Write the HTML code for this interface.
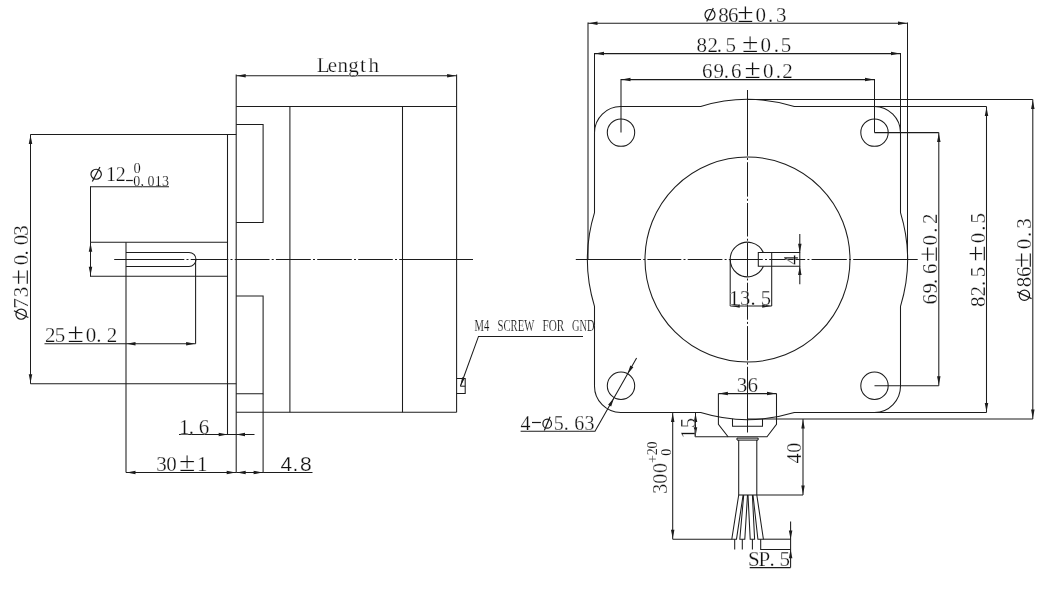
<!DOCTYPE html>
<html><head><meta charset="utf-8"><style>
html,body{margin:0;padding:0;background:#fff;}
svg{display:block;}
line,path,circle{stroke:#1c1c1c;stroke-width:1.05;fill:none;}
path.f{fill:#1c1c1c;stroke:none;}
.t{stroke:#1a1a1a;stroke-width:1.2;fill:none;}
ellipse{fill:none;}
text{font-family:"Liberation Serif",serif;fill:#111;stroke:#fff;stroke-width:0.25px;}
svg{filter:grayscale(1);}
</style></head><body>
<svg width="1052" height="592" viewBox="0 0 1052 592">
<rect width="1052" height="592" fill="#fff"/>
<line x1="236.2" y1="74.5" x2="236.2" y2="472.5"/>
<line x1="456.6" y1="74.5" x2="456.6" y2="412.3"/>
<line x1="236.2" y1="75.8" x2="456.6" y2="75.8"/>
<path class="f" d="M236.90,75.80L245.70,74.05L245.70,77.55Z"/>
<path class="f" d="M455.90,75.80L447.10,77.55L447.10,74.05Z"/>
<line x1="236.2" y1="106.4" x2="456.6" y2="106.4"/>
<line x1="236.2" y1="412.3" x2="456.6" y2="412.3"/>
<line x1="289.9" y1="106.4" x2="289.9" y2="412.3"/>
<line x1="402.5" y1="106.4" x2="402.5" y2="412.3"/>
<path d="M236.2,124.4H263.1V222.5H236.2"/>
<path d="M236.2,296H263.1V393.7H236.2"/>
<line x1="263.1" y1="393.7" x2="263.1" y2="472.5"/>
<line x1="227.5" y1="134.4" x2="227.5" y2="434.5"/>
<line x1="30.5" y1="134.4" x2="236.2" y2="134.4"/>
<line x1="30.5" y1="383.8" x2="236.2" y2="383.8"/>
<line x1="90" y1="242.3" x2="227.5" y2="242.3"/>
<line x1="90" y1="276.3" x2="227.5" y2="276.3"/>
<line x1="126" y1="242.3" x2="126" y2="472.5"/>
<path d="M126,252.4H189A7,7 0 0 1 189,266.4H126"/>
<line x1="195.6" y1="259.5" x2="195.6" y2="343.8"/>
<line x1="90.5" y1="186.7" x2="90.5" y2="242.3"/>
<line x1="90.5" y1="242.3" x2="90.5" y2="276.3"/>
<path class="f" d="M90.50,243.00L92.25,251.80L88.75,251.80Z"/>
<path class="f" d="M90.50,275.60L88.75,266.80L92.25,266.80Z"/>
<line x1="90" y1="186.7" x2="169" y2="186.7"/>
<line x1="44.5" y1="343.8" x2="126" y2="343.8"/>
<line x1="126" y1="343.8" x2="195.6" y2="343.8"/>
<path class="f" d="M126.70,343.80L135.50,342.05L135.50,345.55Z"/>
<path class="f" d="M194.90,343.80L186.10,345.55L186.10,342.05Z"/>
<line x1="30.5" y1="134.4" x2="30.5" y2="383.8"/>
<path class="f" d="M30.50,135.10L32.25,143.90L28.75,143.90Z"/>
<path class="f" d="M30.50,383.10L28.75,374.30L32.25,374.30Z"/>
<line x1="179" y1="434.5" x2="254.5" y2="434.5"/>
<path class="f" d="M227.50,434.50L218.70,436.25L218.70,432.75Z"/>
<path class="f" d="M236.20,434.50L245.00,432.75L245.00,436.25Z"/>
<line x1="126" y1="472.5" x2="236.2" y2="472.5"/>
<path class="f" d="M126.70,472.50L135.50,470.75L135.50,474.25Z"/>
<path class="f" d="M235.50,472.50L226.70,474.25L226.70,470.75Z"/>
<line x1="263.1" y1="472.5" x2="312.5" y2="472.5"/>
<line x1="236.2" y1="472.5" x2="263.1" y2="472.5"/>
<path class="f" d="M236.90,472.50L245.70,470.75L245.70,474.25Z"/>
<path class="f" d="M262.40,472.50L253.60,474.25L253.60,470.75Z"/>
<line x1="114.2" y1="259.5" x2="184.3" y2="259.5"/>
<line x1="186.5" y1="259.5" x2="188.5" y2="259.5"/>
<line x1="190.7" y1="259.5" x2="228.3" y2="259.5"/>
<line x1="230.5" y1="259.5" x2="232.5" y2="259.5"/>
<line x1="234.7" y1="259.5" x2="269.5" y2="259.5"/>
<line x1="271.7" y1="259.5" x2="273.7" y2="259.5"/>
<line x1="275.9" y1="259.5" x2="310.8" y2="259.5"/>
<line x1="313.0" y1="259.5" x2="315.0" y2="259.5"/>
<line x1="317.2" y1="259.5" x2="351.8" y2="259.5"/>
<line x1="354.0" y1="259.5" x2="356.0" y2="259.5"/>
<line x1="358.2" y1="259.5" x2="392.8" y2="259.5"/>
<line x1="395.0" y1="259.5" x2="397.0" y2="259.5"/>
<line x1="399.2" y1="259.5" x2="473" y2="259.5"/>
<path d="M456.6,378.5H465.2V393.4H456.6"/>
<line x1="460.4" y1="386.2" x2="465.2" y2="386.2"/>
<path d="M583,336.4H478.5L460.4,386.2"/>
<path class="f" d="M460.40,386.20L462.16,377.26L464.79,378.22Z"/>
<line x1="588.0" y1="22.5" x2="588.0" y2="259.5"/>
<line x1="907.5" y1="22.5" x2="907.5" y2="259.5"/>
<line x1="588.0" y1="23.2" x2="907.5" y2="23.2"/>
<path class="f" d="M588.70,23.20L597.50,21.45L597.50,24.95Z"/>
<path class="f" d="M906.80,23.20L898.00,24.95L898.00,21.45Z"/>
<line x1="594.5" y1="53" x2="594.5" y2="132.6"/>
<line x1="900.5" y1="53" x2="900.5" y2="132.6"/>
<line x1="594.5" y1="53.6" x2="900.5" y2="53.6"/>
<path class="f" d="M595.20,53.60L604.00,51.85L604.00,55.35Z"/>
<path class="f" d="M899.80,53.60L891.00,55.35L891.00,51.85Z"/>
<line x1="621.0" y1="79" x2="621.0" y2="132.6"/>
<line x1="874.5" y1="79" x2="874.5" y2="132.6"/>
<line x1="621.0" y1="79.6" x2="874.5" y2="79.6"/>
<path class="f" d="M621.70,79.60L630.50,77.85L630.50,81.35Z"/>
<path class="f" d="M873.80,79.60L865.00,81.35L865.00,77.85Z"/>
<path d="M594.5,132.6V212.69A160.0,160.0 0 0 0 594.5,306.31V385.8A26.3,26.3 0 0 0 621.0,412.5H700.69A160.0,160.0 0 0 0 794.31,412.5H874.5A26.3,26.3 0 0 0 900.5,385.8V306.31A160.0,160.0 0 0 0 900.5,212.69V132.6A26.3,26.3 0 0 0 874.5,106.5H794.31A160.0,160.0 0 0 0 700.69,106.5H621.0A26.3,26.3 0 0 0 594.5,132.6Z"/>
<line x1="747.5" y1="99.5" x2="1032.8" y2="99.5"/>
<line x1="874.5" y1="106.5" x2="986.5" y2="106.5"/>
<line x1="874.5" y1="132.6" x2="938.8" y2="132.6"/>
<line x1="874.5" y1="385.8" x2="938.8" y2="385.8"/>
<line x1="874.5" y1="412.5" x2="986.5" y2="412.5"/>
<line x1="747.5" y1="419.0" x2="1032.8" y2="419.0"/>
<line x1="938.8" y1="132.6" x2="938.8" y2="385.8"/>
<path class="f" d="M938.80,133.30L940.55,142.10L937.05,142.10Z"/>
<path class="f" d="M938.80,385.10L937.05,376.30L940.55,376.30Z"/>
<line x1="986.5" y1="106.5" x2="986.5" y2="412.5"/>
<path class="f" d="M986.50,107.20L988.25,116.00L984.75,116.00Z"/>
<path class="f" d="M986.50,411.80L984.75,403.00L988.25,403.00Z"/>
<line x1="1032.8" y1="99.5" x2="1032.8" y2="419.0"/>
<path class="f" d="M1032.80,100.20L1034.55,109.00L1031.05,109.00Z"/>
<path class="f" d="M1032.80,418.30L1031.05,409.50L1034.55,409.50Z"/>
<circle cx="621.0" cy="132.6" r="13.7"/>
<circle cx="621.0" cy="385.8" r="13.7"/>
<circle cx="874.5" cy="132.6" r="13.7"/>
<circle cx="874.5" cy="385.8" r="13.7"/>
<circle cx="747.5" cy="259.5" r="102.5"/>
<path d="M763.32,252.5A17.3,17.3 0 1 0 763.41,266.3"/>
<path d="M758.3,252.5H799.8V266.3H758.3Z"/>
<line x1="771.7" y1="252.5" x2="771.7" y2="306"/>
<line x1="730.2" y1="259.5" x2="730.2" y2="306"/>
<line x1="730.2" y1="305.9" x2="771.7" y2="305.9"/>
<path class="f" d="M730.90,305.90L739.70,304.15L739.70,307.65Z"/>
<path class="f" d="M771.00,305.90L762.20,307.65L762.20,304.15Z"/>
<line x1="799.8" y1="234" x2="799.8" y2="252.5"/>
<path class="f" d="M799.80,252.50L798.05,243.70L801.55,243.70Z"/>
<line x1="799.8" y1="266.3" x2="799.8" y2="284.3"/>
<path class="f" d="M799.80,266.30L801.55,275.10L798.05,275.10Z"/>
<line x1="747.5" y1="90" x2="747.5" y2="155.8"/>
<line x1="747.5" y1="158.0" x2="747.5" y2="160.0"/>
<line x1="747.5" y1="162.2" x2="747.5" y2="196.6"/>
<line x1="747.5" y1="198.8" x2="747.5" y2="200.8"/>
<line x1="747.5" y1="203.0" x2="747.5" y2="236.5"/>
<line x1="747.5" y1="238.7" x2="747.5" y2="240.7"/>
<line x1="747.5" y1="242.9" x2="747.5" y2="276.3"/>
<line x1="747.5" y1="278.5" x2="747.5" y2="280.5"/>
<line x1="747.5" y1="282.7" x2="747.5" y2="319.7"/>
<line x1="747.5" y1="321.9" x2="747.5" y2="323.9"/>
<line x1="747.5" y1="326.1" x2="747.5" y2="360.4"/>
<line x1="747.5" y1="362.6" x2="747.5" y2="364.6"/>
<line x1="747.5" y1="366.8" x2="747.5" y2="432.5"/>
<line x1="575.8" y1="259.5" x2="641.0" y2="259.5"/>
<line x1="643.2" y1="259.5" x2="645.2" y2="259.5"/>
<line x1="647.4" y1="259.5" x2="681.3" y2="259.5"/>
<line x1="683.5" y1="259.5" x2="685.5" y2="259.5"/>
<line x1="687.7" y1="259.5" x2="722.4" y2="259.5"/>
<line x1="724.6" y1="259.5" x2="726.6" y2="259.5"/>
<line x1="728.8" y1="259.5" x2="762.8" y2="259.5"/>
<line x1="765.0" y1="259.5" x2="767.0" y2="259.5"/>
<line x1="769.2" y1="259.5" x2="805.2" y2="259.5"/>
<line x1="807.4" y1="259.5" x2="809.4" y2="259.5"/>
<line x1="811.6" y1="259.5" x2="846.8" y2="259.5"/>
<line x1="849.0" y1="259.5" x2="851.0" y2="259.5"/>
<line x1="853.2" y1="259.5" x2="917.7" y2="259.5"/>
<line x1="718.4" y1="393.6" x2="776.5" y2="393.6"/>
<path class="f" d="M719.10,393.60L727.90,391.85L727.90,395.35Z"/>
<path class="f" d="M775.80,393.60L767.00,395.35L767.00,391.85Z"/>
<path d="M718.4,393.6V424.3L728.1,436.8H767L776.5,424.3V393.6"/>
<path d="M732.5,418.7V426.3H762.5V418.7"/>
<line x1="694.9" y1="436.8" x2="728.1" y2="436.8"/>
<line x1="695.5" y1="412.5" x2="695.5" y2="436.8"/>
<path class="f" d="M695.50,413.20L697.25,422.00L693.75,422.00Z"/>
<path class="f" d="M695.50,436.10L693.75,427.30L697.25,427.30Z"/>
<line x1="737" y1="438.1" x2="758.1" y2="438.1"/>
<line x1="737" y1="440.1" x2="758.1" y2="440.1"/>
<line x1="737" y1="438.1" x2="737" y2="440.1"/>
<line x1="758.1" y1="438.1" x2="758.1" y2="440.1"/>
<line x1="738.7" y1="440.1" x2="738.7" y2="495"/>
<line x1="756.8" y1="440.1" x2="756.8" y2="495"/>
<line x1="738.7" y1="495" x2="756.8" y2="495"/>
<line x1="756.8" y1="494.9" x2="803" y2="494.9"/>
<line x1="803" y1="419.0" x2="803" y2="494.9"/>
<path class="f" d="M803.00,419.70L804.75,428.50L801.25,428.50Z"/>
<path class="f" d="M803.00,494.20L801.25,485.40L804.75,485.40Z"/>
<line x1="672.7" y1="412.5" x2="672.7" y2="539.2"/>
<path class="f" d="M672.70,413.20L674.45,422.00L670.95,422.00Z"/>
<path class="f" d="M672.70,538.50L670.95,529.70L674.45,529.70Z"/>
<line x1="672.7" y1="539.2" x2="731.8" y2="539.2"/>
<path d="M738.7,495L731.8,539.2H736.5L743.1,495"/>
<path d="M743.7,495L739.8,539.2H744.8L747.5,495"/>
<path d="M748.0,495L750.2,539.2H754.6L752.4,495"/>
<path d="M753.0,495L757.9,539.2H763.4L756.8,495"/>
<line x1="734.7" y1="539.2" x2="734.7" y2="549.4"/>
<line x1="742.3" y1="539.2" x2="742.3" y2="549.4"/>
<line x1="752.4" y1="539.2" x2="752.4" y2="549.4"/>
<path d="M760.7,539.2V549.4H790.6"/>
<line x1="763.4" y1="539.2" x2="790.6" y2="539.2"/>
<line x1="790.6" y1="521.4" x2="790.6" y2="567.6"/>
<path class="f" d="M790.60,539.20L788.85,530.40L792.35,530.40Z"/>
<path class="f" d="M790.60,549.40L792.35,558.20L788.85,558.20Z"/>
<line x1="749.7" y1="567.6" x2="790.6" y2="567.6"/>
<path d="M520.6,431.3H595L636.6,358"/>
<path class="f" d="M627.50,374.10L630.32,365.58L633.36,367.31Z"/>
<path class="f" d="M614.00,397.90L611.18,406.42L608.14,404.69Z"/>
<ellipse cx="96.15" cy="174.25" rx="5.2" ry="5.0" class="t"/>
<line x1="99.95" y1="166.95" x2="92.35" y2="181.55" class="t"/>
<line x1="126.1" y1="180.5" x2="132.8" y2="180.5" class="t"/>
<ellipse cx="21.15" cy="314.15" rx="5.2" ry="5.1" class="t"/>
<line x1="13.95" y1="310.75" x2="28.35" y2="317.55" class="t"/>
<ellipse cx="710" cy="14.75" rx="5.0" ry="5.25" class="t"/>
<line x1="713.30" y1="7.95" x2="706.70" y2="21.55" class="t"/>
<ellipse cx="1024.4" cy="295.25" rx="5.2" ry="5.1" class="t"/>
<line x1="1017.20" y1="291.85" x2="1031.60" y2="298.65" class="t"/>
<line x1="532" y1="422.5" x2="540.9" y2="422.5" class="t"/>
<ellipse cx="547.2" cy="423.7" rx="4.3" ry="4.5" class="t"/>
<line x1="550.10" y1="416.80" x2="544.30" y2="430.60" class="t"/>
<text transform="translate(322.85,71.9)" x="-6.09" y="0" font-size="21">L</text>
<text transform="translate(332.55,71.9)" x="-4.71" y="0" font-size="21">e</text>
<text transform="translate(342.75,71.9)" x="-5.33" y="0" font-size="21">n</text>
<text transform="translate(353.70,71.9)" x="-5.50" y="0" font-size="21">g</text>
<text transform="translate(362.95,71.9)" x="-2.96" y="0" font-size="21">t</text>
<text transform="translate(373.65,71.9)" x="-5.21" y="0" font-size="21">h</text>
<text transform="translate(111.15,180.9)" x="-5.28" y="0" font-size="20">1</text>
<text transform="translate(120.65,180.9)" x="-4.89" y="0" font-size="20">2</text>
<text transform="translate(137.05,172.6)" x="-3.62" y="0" font-size="14.5" style="stroke-width:0.15px">0</text>
<text transform="translate(136.80,185.5)" x="-3.50" y="0" font-size="14" style="stroke-width:0.15px">0</text>
<text transform="translate(142.00,185.5)" x="-1.58" y="0" font-size="14" style="stroke-width:0.15px">,</text>
<text transform="translate(151.00,185.5)" x="-3.50" y="0" font-size="14" style="stroke-width:0.15px">0</text>
<text transform="translate(158.35,185.5)" x="-3.69" y="0" font-size="14" style="stroke-width:0.15px">1</text>
<text transform="translate(165.45,185.5)" x="-3.56" y="0" font-size="14" style="stroke-width:0.15px">3</text>
<text transform="translate(50.05,341.7)" x="-5.13" y="0" font-size="21">2</text>
<text transform="translate(60.15,341.7)" x="-5.45" y="0" font-size="21">5</text>
<text transform="translate(75.55,341.7) scale(1.1,1)" x="-7.40" y="0" font-size="27">±</text>
<text transform="translate(90.95,341.7)" x="-5.25" y="0" font-size="21">0</text>
<text transform="translate(98.90,341.7)" x="-2.62" y="0" font-size="21">.</text>
<text transform="translate(111.85,341.7)" x="-5.13" y="0" font-size="21">2</text>
<text transform="translate(28.4,303.05) rotate(-90)" x="-5.64" y="0" font-size="21">7</text>
<text transform="translate(28.4,291.95) rotate(-90)" x="-5.34" y="0" font-size="21">3</text>
<text transform="translate(28.4,277.10) rotate(-90) scale(1.1,1)" x="-7.40" y="0" font-size="27">±</text>
<text transform="translate(28.4,259.90) rotate(-90)" x="-5.25" y="0" font-size="21">0</text>
<text transform="translate(28.4,252.80) rotate(-90)" x="-2.62" y="0" font-size="21">.</text>
<text transform="translate(28.4,239.95) rotate(-90)" x="-5.25" y="0" font-size="21">0</text>
<text transform="translate(28.4,230.50) rotate(-90)" x="-5.34" y="0" font-size="21">3</text>
<text transform="translate(184.45,433.8)" x="-5.54" y="0" font-size="21">1</text>
<text transform="translate(191.30,433.8)" x="-2.62" y="0" font-size="21">.</text>
<text transform="translate(204.15,433.8)" x="-5.39" y="0" font-size="21">6</text>
<text transform="translate(161.65,470.8)" x="-5.34" y="0" font-size="21">3</text>
<text transform="translate(171.55,470.8)" x="-5.25" y="0" font-size="21">0</text>
<text transform="translate(187.25,470.8) scale(1.1,1)" x="-7.40" y="0" font-size="27">±</text>
<text transform="translate(202.50,470.8)" x="-5.54" y="0" font-size="21">1</text>
<text transform="translate(286.35,471)" x="-5.77" y="0" font-size="21" style="font-family:'Liberation Sans'">4</text>
<text transform="translate(295.30,471)" x="-2.92" y="0" font-size="21" style="font-family:'Liberation Sans'">.</text>
<text transform="translate(305.95,471)" x="-5.84" y="0" font-size="21" style="font-family:'Liberation Sans'">8</text>
<text x="474.6" y="331" font-size="16.5" textLength="14.7" lengthAdjust="spacingAndGlyphs" style="stroke-width:0.2px">M4</text>
<text x="497.5" y="331" font-size="16.5" textLength="36.8" lengthAdjust="spacingAndGlyphs" style="stroke-width:0.2px">SCREW</text>
<text x="542.5" y="331" font-size="16.5" textLength="21.8" lengthAdjust="spacingAndGlyphs" style="stroke-width:0.2px">FOR</text>
<text x="572" y="331" font-size="16.5" textLength="22.5" lengthAdjust="spacingAndGlyphs" style="stroke-width:0.2px">GND</text>
<text transform="translate(723.50,21.9)" x="-5.25" y="0" font-size="21">8</text>
<text transform="translate(733.30,21.9)" x="-5.39" y="0" font-size="21">6</text>
<text transform="translate(745.30,21.9) scale(1.1,1)" x="-7.40" y="0" font-size="27">±</text>
<text transform="translate(760.85,21.9)" x="-5.25" y="0" font-size="21">0</text>
<text transform="translate(770.70,21.9)" x="-2.62" y="0" font-size="21">.</text>
<text transform="translate(781.45,21.9)" x="-5.34" y="0" font-size="21">3</text>
<text transform="translate(701.75,51.5)" x="-5.25" y="0" font-size="21">8</text>
<text transform="translate(712.50,51.5)" x="-5.13" y="0" font-size="21">2</text>
<text transform="translate(719.45,51.5)" x="-2.62" y="0" font-size="21">.</text>
<text transform="translate(730.85,51.5)" x="-5.45" y="0" font-size="21">5</text>
<text transform="translate(750.25,51.5) scale(1.1,1)" x="-7.40" y="0" font-size="27">±</text>
<text transform="translate(765.85,51.5)" x="-5.25" y="0" font-size="21">0</text>
<text transform="translate(776.25,51.5)" x="-2.62" y="0" font-size="21">.</text>
<text transform="translate(786.25,51.5)" x="-5.45" y="0" font-size="21">5</text>
<text transform="translate(707.35,77.6)" x="-5.39" y="0" font-size="21">6</text>
<text transform="translate(718.75,77.6)" x="-5.16" y="0" font-size="21">9</text>
<text transform="translate(726.35,77.6)" x="-2.62" y="0" font-size="21">.</text>
<text transform="translate(736.45,77.6)" x="-5.39" y="0" font-size="21">6</text>
<text transform="translate(752.70,77.6) scale(1.1,1)" x="-7.40" y="0" font-size="27">±</text>
<text transform="translate(768.25,77.6)" x="-5.25" y="0" font-size="21">0</text>
<text transform="translate(778.35,77.6)" x="-2.62" y="0" font-size="21">.</text>
<text transform="translate(787.30,77.6)" x="-5.13" y="0" font-size="21">2</text>
<text transform="translate(936.9,299.15) rotate(-90)" x="-5.39" y="0" font-size="21">6</text>
<text transform="translate(936.9,288.45) rotate(-90)" x="-5.16" y="0" font-size="21">9</text>
<text transform="translate(936.9,281.50) rotate(-90)" x="-2.62" y="0" font-size="21">.</text>
<text transform="translate(936.9,268.50) rotate(-90)" x="-5.39" y="0" font-size="21">6</text>
<text transform="translate(936.9,254.15) rotate(-90) scale(1.1,1)" x="-7.40" y="0" font-size="27">±</text>
<text transform="translate(936.9,240.25) rotate(-90)" x="-5.25" y="0" font-size="21">0</text>
<text transform="translate(936.9,230.05) rotate(-90)" x="-2.62" y="0" font-size="21">.</text>
<text transform="translate(936.9,218.90) rotate(-90)" x="-5.13" y="0" font-size="21">2</text>
<text transform="translate(984.6,301.75) rotate(-90)" x="-5.25" y="0" font-size="21">8</text>
<text transform="translate(984.6,291.25) rotate(-90)" x="-5.13" y="0" font-size="21">2</text>
<text transform="translate(984.6,283.40) rotate(-90)" x="-2.62" y="0" font-size="21">.</text>
<text transform="translate(984.6,271.80) rotate(-90)" x="-5.45" y="0" font-size="21">5</text>
<text transform="translate(984.6,253.70) rotate(-90) scale(1.1,1)" x="-7.40" y="0" font-size="27">±</text>
<text transform="translate(984.6,237.90) rotate(-90)" x="-5.25" y="0" font-size="21">0</text>
<text transform="translate(984.6,228.15) rotate(-90)" x="-2.62" y="0" font-size="21">.</text>
<text transform="translate(984.6,218.00) rotate(-90)" x="-5.45" y="0" font-size="21">5</text>
<text transform="translate(1031.2,282.05) rotate(-90)" x="-5.25" y="0" font-size="21">8</text>
<text transform="translate(1031.2,271.55) rotate(-90)" x="-5.39" y="0" font-size="21">6</text>
<text transform="translate(1031.2,260.00) rotate(-90) scale(1.1,1)" x="-7.40" y="0" font-size="27">±</text>
<text transform="translate(1031.2,243.95) rotate(-90)" x="-5.25" y="0" font-size="21">0</text>
<text transform="translate(1031.2,234.45) rotate(-90)" x="-2.62" y="0" font-size="21">.</text>
<text transform="translate(1031.2,223.50) rotate(-90)" x="-5.34" y="0" font-size="21">3</text>
<text transform="translate(734.35,304.5)" x="-5.41" y="0" font-size="20.5">1</text>
<text transform="translate(745.10,304.5)" x="-5.22" y="0" font-size="20.5">3</text>
<text transform="translate(752.95,304.5)" x="-2.56" y="0" font-size="20.5">.</text>
<text transform="translate(766.00,304.5)" x="-5.32" y="0" font-size="20.5">5</text>
<text transform="translate(798.3,259.95) rotate(-90)" x="-5.04" y="0" font-size="20">4</text>
<text transform="translate(742.05,392.1)" x="-5.34" y="0" font-size="21">3</text>
<text transform="translate(752.80,392.1)" x="-5.39" y="0" font-size="21">6</text>
<text transform="translate(525.55,429.8)" x="-5.04" y="0" font-size="20">4</text>
<text transform="translate(558.85,429.8)" x="-5.19" y="0" font-size="20">5</text>
<text transform="translate(566.30,429.8)" x="-2.50" y="0" font-size="20">.</text>
<text transform="translate(579.45,429.8)" x="-5.13" y="0" font-size="20">6</text>
<text transform="translate(589.55,429.8)" x="-5.09" y="0" font-size="20">3</text>
<text transform="translate(694.5,433.55) rotate(-90)" x="-5.28" y="0" font-size="20">1</text>
<text transform="translate(694.5,422.80) rotate(-90)" x="-5.19" y="0" font-size="20">5</text>
<text transform="translate(666.8,488.65) rotate(-90)" x="-5.09" y="0" font-size="20">3</text>
<text transform="translate(666.8,478.80) rotate(-90)" x="-5.00" y="0" font-size="20">0</text>
<text transform="translate(666.8,468.10) rotate(-90)" x="-5.00" y="0" font-size="20">0</text>
<text transform="translate(657.4,459.00) rotate(-90)" x="-3.95" y="0" font-size="14" style="stroke-width:0.15px">+</text>
<text transform="translate(657.4,451.90) rotate(-90)" x="-3.42" y="0" font-size="14" style="stroke-width:0.15px">2</text>
<text transform="translate(657.4,445.10) rotate(-90)" x="-3.50" y="0" font-size="14" style="stroke-width:0.15px">0</text>
<text transform="translate(671.1,452.20) rotate(-90)" x="-3.50" y="0" font-size="14" style="stroke-width:0.15px">0</text>
<text transform="translate(801.3,458.50) rotate(-90)" x="-5.04" y="0" font-size="20">4</text>
<text transform="translate(801.3,447.65) rotate(-90)" x="-5.00" y="0" font-size="20">0</text>
<text transform="translate(753.95,566.1)" x="-5.89" y="0" font-size="21">S</text>
<text transform="translate(764.10,566.1)" x="-5.72" y="0" font-size="21">P</text>
<text transform="translate(772.05,566.1)" x="-2.62" y="0" font-size="21">.</text>
<text transform="translate(785.05,566.1)" x="-5.45" y="0" font-size="21">5</text>
</svg>
</body></html>
